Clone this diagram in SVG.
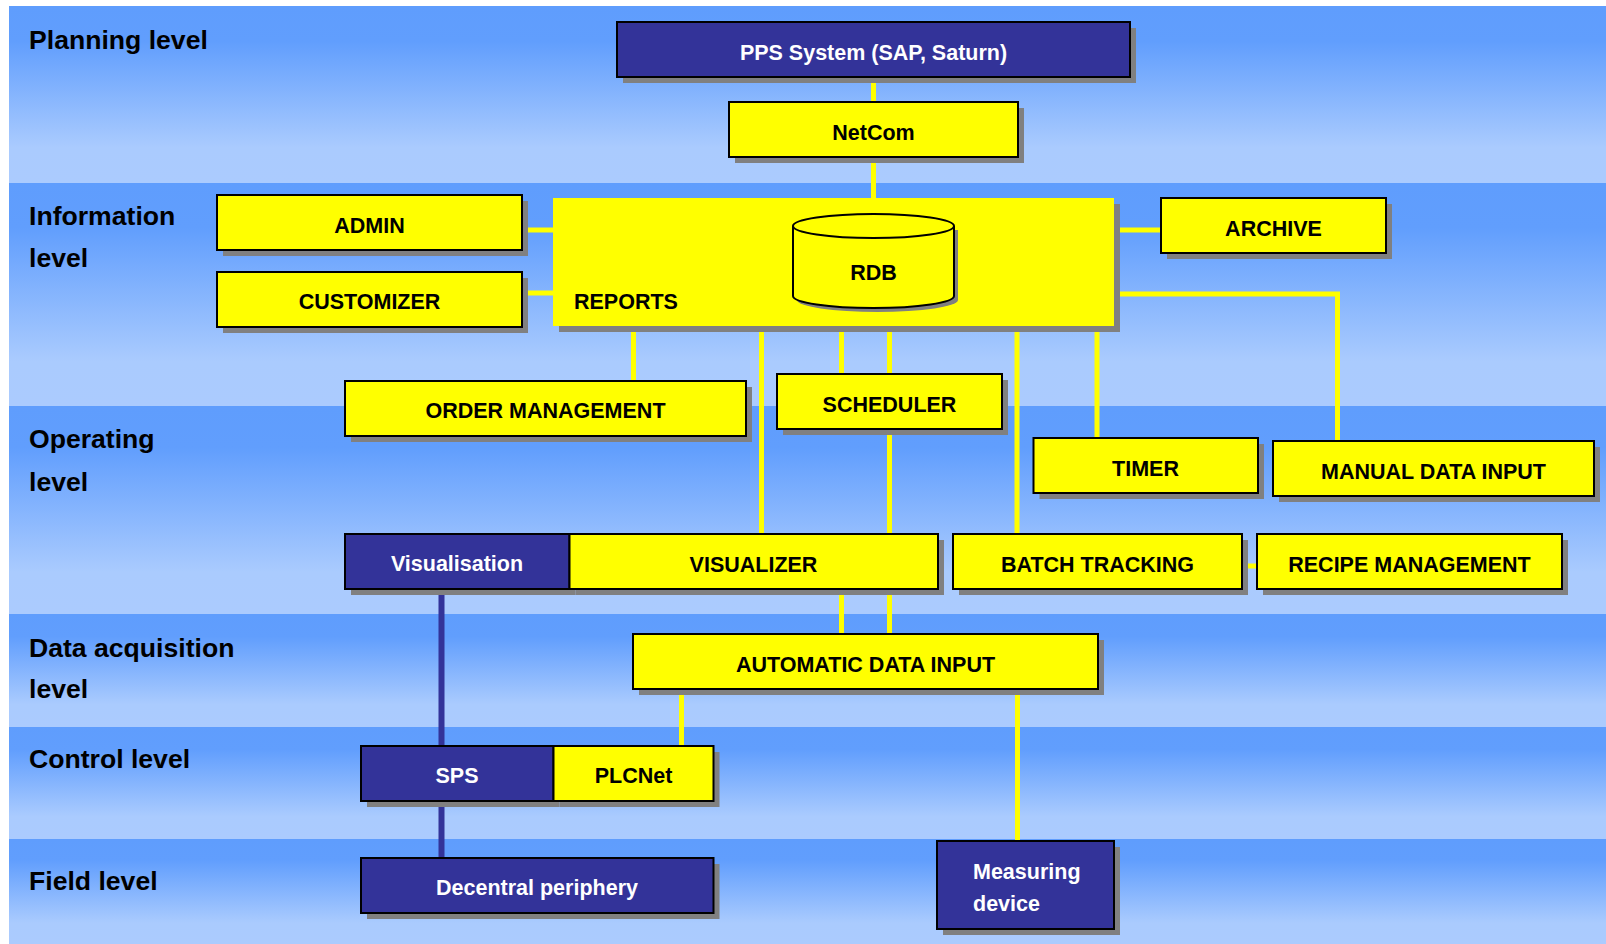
<svg xmlns="http://www.w3.org/2000/svg" width="1606" height="944" viewBox="0 0 1606 944">
<defs>
<linearGradient id="band" x1="0" y1="0" x2="0" y2="1">
<stop offset="0" stop-color="#5f9dfd"/>
<stop offset="0.2" stop-color="#619efd"/>
<stop offset="0.8" stop-color="#aacbfe"/>
<stop offset="1" stop-color="#abcbfe"/>
</linearGradient>
</defs>
<style>
.band{fill:url(#band)}
.lvl{font-family:"Liberation Sans",Arial,sans-serif;font-weight:bold;font-size:26.6px;fill:#000}
.sh{fill:#808080}
.y{fill:#ffff00;stroke:#000;stroke-width:2}
.b{fill:#333399;stroke:#000;stroke-width:2}
.t{font-family:"Liberation Sans",Arial,sans-serif;font-weight:bold;font-size:21.5px;text-anchor:middle;fill:#000}
.tw{font-family:"Liberation Sans",Arial,sans-serif;font-weight:bold;font-size:21.5px;text-anchor:middle;fill:#fff}
.cy{fill:none;stroke:#ffff00;stroke-width:5}
.cb{fill:none;stroke:#333399;stroke-width:6}
</style>
<rect x="0" y="0" width="1606" height="944" fill="#fff"/>
<g id="bands">
<rect class="band" x="9" y="6" width="1597" height="177"/>
<rect class="band" x="9" y="183" width="1597" height="223"/>
<rect class="band" x="9" y="406" width="1597" height="208"/>
<rect class="band" x="9" y="614" width="1597" height="113"/>
<rect class="band" x="9" y="727" width="1597" height="112"/>
<rect class="band" x="9" y="839" width="1597" height="105"/>
</g>
<g id="level-labels">
<text class="lvl" x="29" y="49">Planning level</text>
<text class="lvl" x="29" y="225">Information</text>
<text class="lvl" x="29" y="267">level</text>
<text class="lvl" x="29" y="448">Operating</text>
<text class="lvl" x="29" y="491">level</text>
<text class="lvl" x="29" y="657">Data acquisition</text>
<text class="lvl" x="29" y="698">level</text>
<text class="lvl" x="29" y="768">Control level</text>
<text class="lvl" x="29" y="890">Field level</text>
</g>
<g id="connectors">
<line class="cy" x1="873.5" y1="77" x2="873.5" y2="102"/>
<line class="cy" x1="873.5" y1="157" x2="873.5" y2="199"/>
<line class="cy" x1="522" y1="230" x2="554" y2="230"/>
<line class="cy" x1="522" y1="293" x2="554" y2="293"/>
<line class="cy" x1="1113" y1="230" x2="1162" y2="230"/>
<path class="cy" d="M1113,294 H1337.5 V441"/>
<line class="cy" x1="1097" y1="325" x2="1097" y2="438"/>
<line class="cy" x1="633.5" y1="325" x2="633.5" y2="382"/>
<line class="cy" x1="761.5" y1="325" x2="761.5" y2="535"/>
<line class="cy" x1="841.5" y1="325" x2="841.5" y2="375"/>
<line class="cy" x1="889.5" y1="325" x2="889.5" y2="375"/>
<line class="cy" x1="889.5" y1="429" x2="889.5" y2="535"/>
<line class="cy" x1="1017" y1="325" x2="1017" y2="535"/>
<line class="cy" x1="841.5" y1="588" x2="841.5" y2="635"/>
<line class="cy" x1="889.5" y1="588" x2="889.5" y2="635"/>
<line class="cy" x1="1242" y1="566" x2="1258" y2="566"/>
<line class="cy" x1="681.5" y1="688" x2="681.5" y2="747"/>
<line class="cy" x1="1017.5" y1="688" x2="1017.5" y2="842"/>
<line class="cb" x1="441.5" y1="589" x2="441.5" y2="747"/>
<line class="cb" x1="441.5" y1="800" x2="441.5" y2="859"/>
</g>
<g id="pps">
<rect class="sh" x="623" y="28" width="513" height="55"/>
<rect class="b" x="617" y="22" width="513" height="55"/>
<text class="tw" x="873.5" y="60">PPS System (SAP, Saturn)</text>
</g>
<g id="netcom">
<rect class="sh" x="735" y="108" width="289" height="55"/>
<rect class="y" x="729" y="102" width="289" height="55"/>
<text class="t" x="873.5" y="140">NetCom</text>
</g>
<g id="reports">
<rect class="sh" x="559" y="204" width="561" height="128"/>
<rect x="553" y="198" width="561" height="128" fill="#ffff00"/>
<text class="t" x="574" y="309" style="text-anchor:start">REPORTS</text>
</g>
<g id="rdb">
<path class="sh" d="M797,230 V300 A80.5,12 0 0 0 958,300 V230 Z"/>
<path d="M793,226 V296 A80.5,12 0 0 0 954,296 V226" fill="#ffff00" stroke="#000" stroke-width="2"/>
<ellipse cx="873.5" cy="226" rx="80.5" ry="12" fill="#ffff00" stroke="#000" stroke-width="2"/>
<text class="t" x="873.5" y="280">RDB</text>
</g>
<g id="admin">
<rect class="sh" x="223" y="201" width="305" height="55"/>
<rect class="y" x="217" y="195" width="305" height="55"/>
<text class="t" x="369.5" y="233">ADMIN</text>
</g>
<g id="customizer">
<rect class="sh" x="223" y="278" width="305" height="55"/>
<rect class="y" x="217" y="272" width="305" height="55"/>
<text class="t" x="369.5" y="309">CUSTOMIZER</text>
</g>
<g id="archive">
<rect class="sh" x="1167" y="204" width="225" height="55"/>
<rect class="y" x="1161" y="198" width="225" height="55"/>
<text class="t" x="1273.5" y="236">ARCHIVE</text>
</g>
<g id="order-management">
<rect class="sh" x="351" y="387" width="401" height="55"/>
<rect class="y" x="345" y="381" width="401" height="55"/>
<text class="t" x="545.5" y="418">ORDER MANAGEMENT</text>
</g>
<g id="scheduler">
<rect class="sh" x="783" y="380" width="225" height="55"/>
<rect class="y" x="777" y="374" width="225" height="55"/>
<text class="t" x="889.5" y="412">SCHEDULER</text>
</g>
<g id="timer">
<rect class="sh" x="1039.5" y="444" width="224.5" height="55"/>
<rect class="y" x="1033.5" y="438" width="224.5" height="55"/>
<text class="t" x="1145.5" y="476">TIMER</text>
</g>
<g id="manual-data-input">
<rect class="sh" x="1279" y="447" width="321" height="55"/>
<rect class="y" x="1273" y="441" width="321" height="55"/>
<text class="t" x="1433.5" y="479">MANUAL DATA INPUT</text>
</g>
<g id="visualisation">
<rect class="sh" x="351" y="540" width="224.5" height="55"/>
<rect class="b" x="345" y="534" width="224.5" height="55"/>
<text class="tw" x="457" y="571">Visualisation</text>
</g>
<g id="visualizer">
<rect class="sh" x="575.5" y="540" width="368.5" height="55"/>
<rect class="y" x="569.5" y="534" width="368.5" height="55"/>
<text class="t" x="753.5" y="571.5">VISUALIZER</text>
</g>
<g id="batch-tracking">
<rect class="sh" x="959" y="540" width="289" height="55"/>
<rect class="y" x="953" y="534" width="289" height="55"/>
<text class="t" x="1097.5" y="571.5">BATCH TRACKING</text>
</g>
<g id="recipe-management">
<rect class="sh" x="1263" y="540" width="305" height="55"/>
<rect class="y" x="1257" y="534" width="305" height="55"/>
<text class="t" x="1409.5" y="571.5">RECIPE MANAGEMENT</text>
</g>
<g id="automatic-data-input">
<rect class="sh" x="639" y="640" width="465" height="55"/>
<rect class="y" x="633" y="634" width="465" height="55"/>
<text class="t" x="865.5" y="671.5">AUTOMATIC DATA INPUT</text>
</g>
<g id="sps">
<rect class="sh" x="367" y="752" width="192.5" height="55"/>
<rect class="b" x="361" y="746" width="192.5" height="55"/>
<text class="tw" x="457" y="783">SPS</text>
</g>
<g id="plcnet">
<rect class="sh" x="559.5" y="752" width="160" height="55"/>
<rect class="y" x="553.5" y="746" width="160" height="55"/>
<text class="t" x="633.5" y="783">PLCNet</text>
</g>
<g id="decentral-periphery">
<rect class="sh" x="367" y="864" width="352.5" height="55"/>
<rect class="b" x="361" y="858" width="352.5" height="55"/>
<text class="tw" x="537" y="895">Decentral periphery</text>
</g>
<g id="measuring-device">
<rect class="sh" x="943" y="847" width="177" height="88"/>
<rect class="b" x="937" y="841" width="177" height="88"/>
<text class="tw" x="973" y="879" style="text-anchor:start">Measuring</text>
<text class="tw" x="973" y="911" style="text-anchor:start">device</text>
</g>
</svg>
